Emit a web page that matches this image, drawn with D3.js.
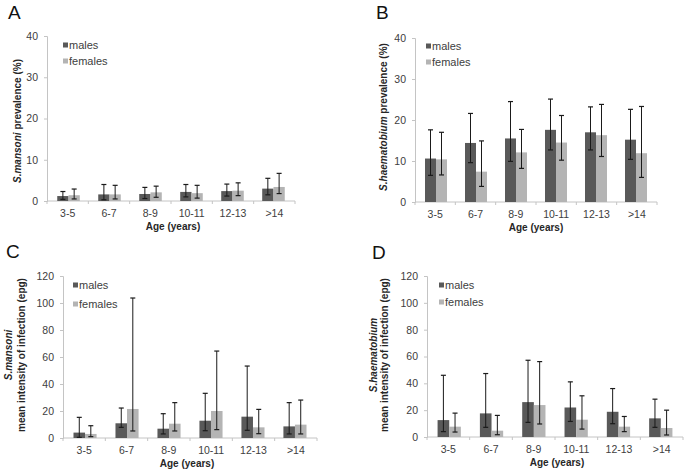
<!DOCTYPE html>
<html lang="en">
<head>
<meta charset="UTF-8">
<title>Schistosoma prevalence and intensity by age and sex</title>
<style>
    body { margin: 0; background: #fff; }
    svg { display: block; font-family: "Liberation Sans", Arial, sans-serif; }
    .tick text { fill: #404040; font-size: 10.5px; }
    .domain, .tick line { stroke: #c4c4c4; }
    .ttl { font-size: 10px; font-weight: bold; fill: #262626; }
    .leg { font-size: 11px; fill: #404040; }
    .letter { font-size: 19px; fill: #111; }
</style>
</head>
<body>
<svg id="chart" width="685" height="475"></svg>
<script src="https://d3js.org/d3.v7.min.js"></script>
<script>
// age groups (x categories)
var ageGroups = ["3-5", "6-7", "8-9", "10-11", "12-13", ">14"];
var seriesNames = ["males", "females"];
var prevTicks = [0, 10, 20, 30, 40];
var intensTicks = [0, 20, 40, 60, 80, 100, 120];

// A: S.mansoni prevalence (%), value and [low, high] error bar
var smPrevMales = [1.2, 1.6, 1.7, 2.2, 2.4, 3.0];
var smPrevMalesCI = [[0.4, 2.3], [0.3, 4.0], [0.6, 3.3], [1.0, 4.0], [1.2, 4.1], [1.5, 5.5]];
var smPrevFemales = [1.4, 1.6, 2.1, 1.9, 2.5, 3.4];
var smPrevFemalesCI = [[0.5, 2.9], [0.5, 3.8], [0.9, 3.6], [0.7, 3.8], [1.3, 4.4], [1.8, 6.7]];

// B: S.haematobium prevalence (%)
var shPrevMales = [10.6, 14.4, 15.5, 17.6, 17.0, 15.2];
var shPrevMalesCI = [[6.5, 17.6], [9.6, 21.6], [9.9, 24.5], [12.7, 25.1], [12.7, 23.2], [10.4, 22.6]];
var shPrevFemales = [10.4, 7.4, 12.1, 14.5, 16.3, 11.9];
var shPrevFemalesCI = [[6.6, 17.0], [3.8, 14.9], [8.2, 17.7], [10.2, 21.1], [11.1, 23.8], [6.0, 23.3]];

// C: S.mansoni mean intensity (epg)
var smIntMales = [4.0, 10.9, 6.9, 12.8, 15.8, 8.6];
var smIntMalesCI = [[0.5, 15.3], [7.9, 22.2], [3.0, 18.0], [5.4, 33.1], [5.7, 53.3], [3.0, 26.2]];
var smIntFemales = [3.0, 21.5, 10.6, 20.0, 7.9, 9.9];
var smIntFemalesCI = [[1.0, 9.1], [5.2, 103.7], [5.2, 26.2], [6.2, 64.4], [3.2, 21.2], [3.0, 28.1]];

// D: S.haematobium mean intensity (epg)
var shIntMales = [12.6, 17.6, 26.0, 22.0, 18.8, 13.9];
var shIntMalesCI = [[4.0, 46.0], [7.2, 47.3], [10.9, 57.2], [11.6, 41.1], [9.9, 36.1], [7.2, 28.2]];
var shIntFemales = [7.7, 4.7, 23.8, 12.9, 7.7, 6.7];
var shIntFemalesCI = [[3.7, 17.8], [1.7, 16.1], [9.7, 56.2], [5.9, 30.7], [4.0, 15.3], [1.5, 20.0]];

var colors = { males: "#595959", females: "#b4b4b4" };

var svg = d3.select("#chart");

function drawPanel(p) {
    var g = svg.append("g");
    var x0 = d3.scaleBand().domain(ageGroups).range([p.left, p.right])
        .paddingInner(0.45).paddingOuter(0.25);
    var x1 = d3.scaleBand().domain(seriesNames).range([0, x0.bandwidth()]);
    var y = d3.scaleLinear().domain([0, p.ticks[p.ticks.length - 1]]).range([p.bottom, p.top]);

    // y axis
    g.append("g")
        .attr("transform", "translate(" + p.left + ",0)")
        .call(d3.axisLeft(y).tickValues(p.ticks).tickSize(3).tickPadding(6));

    // x axis: ticks between categories
    var step = (p.right - p.left) / ageGroups.length;
    var xa = g.append("g").attr("transform", "translate(0," + p.bottom + ")");
    xa.append("line").attr("class", "domain")
        .attr("x1", p.left).attr("x2", p.right);
    xa.selectAll(".sep").data(d3.range(ageGroups.length + 1)).enter().append("line")
        .attr("class", "sep")
        .attr("stroke", "#c4c4c4")
        .attr("x1", function(i) { return p.left + i * step; })
        .attr("x2", function(i) { return p.left + i * step; })
        .attr("y1", 0).attr("y2", 3);
    xa.selectAll(".lab").data(ageGroups).enter().append("text")
        .attr("class", "lab")
        .attr("x", function(d, i) { return p.left + (i + 0.5) * step; })
        .attr("y", 16)
        .attr("text-anchor", "middle")
        .attr("fill", "#404040")
        .style("font-size", "10.5px")
        .text(function(d) { return d; });

    // bars
    var rows = [];
    ageGroups.forEach(function(a, i) {
        rows.push({ age: a, s: "males", v: p.males[i], ci: p.malesCI[i] });
        rows.push({ age: a, s: "females", v: p.females[i], ci: p.femalesCI[i] });
    });
    g.selectAll(".bar").data(rows).enter().append("rect")
        .attr("x", function(d) { return x0(d.age) + x1(d.s); })
        .attr("y", function(d) { return y(d.v); })
        .attr("width", x1.bandwidth())
        .attr("height", function(d) { return p.bottom - y(d.v); })
        .attr("fill", function(d) { return colors[d.s]; });

    // error bars
    var eb = g.selectAll(".err").data(rows).enter().append("g")
        .attr("transform", function(d) {
            return "translate(" + (x0(d.age) + x1(d.s) + x1.bandwidth() / 2) + ",0)";
        });
    eb.append("line")
        .attr("y1", function(d) { return y(d.ci[0]); })
        .attr("y2", function(d) { return y(d.ci[1]); })
        .attr("stroke", "#1a1a1a").attr("stroke-width", 1);
    eb.append("line")
        .attr("x1", -2.5).attr("x2", 2.5)
        .attr("y1", function(d) { return y(d.ci[1]); })
        .attr("y2", function(d) { return y(d.ci[1]); })
        .attr("stroke", "#1a1a1a").attr("stroke-width", 1.2);
    eb.append("line")
        .attr("x1", -2.5).attr("x2", 2.5)
        .attr("y1", function(d) { return y(d.ci[0]); })
        .attr("y2", function(d) { return y(d.ci[0]); })
        .attr("stroke", "#1a1a1a").attr("stroke-width", 1.2);

    // x axis title
    g.append("text").attr("class", "ttl")
        .attr("x", (p.left + p.right) / 2 + p.xTitleShift)
        .attr("y", p.bottom + 29)
        .attr("text-anchor", "middle")
        .text("Age (years)");

    // y axis title (one or two lines, species name in italics)
    p.yTitle.forEach(function(line, i) {
        var t = g.append("text").attr("class", "ttl")
            .attr("text-anchor", "middle")
            .attr("transform", "translate(" + p.yTitleX[i] + "," + p.yTitleY + ") rotate(-90)");
        line.forEach(function(part) {
            t.append("tspan").style("font-style", part[1] ? "italic" : "normal").text(part[0]);
        });
    });

    // legend
    seriesNames.forEach(function(s, i) {
        var ly = p.legY + i * p.legGap;
        g.append("rect")
            .attr("x", p.legX).attr("y", ly - 6.5)
            .attr("width", 5).attr("height", 5)
            .attr("fill", colors[s]);
        g.append("text").attr("class", "leg")
            .attr("x", p.legX + 6).attr("y", ly)
            .text(s);
    });

    // panel letter
    g.append("text").attr("class", "letter")
        .attr("x", p.letterX).attr("y", p.letterY)
        .text(p.letter);
}

drawPanel({
    letter: "A", letterX: 8, letterY: 19,
    left: 47, right: 295, top: 36, bottom: 201, ticks: prevTicks,
    males: smPrevMales, malesCI: smPrevMalesCI, females: smPrevFemales, femalesCI: smPrevFemalesCI,
    yTitle: [[["S.mansoni", true], [" prevalence (%)", false]]],
    yTitleX: [21], yTitleY: 121, xTitleShift: 2,
    legX: 63, legY: 49, legGap: 16
});

drawPanel({
    letter: "B", letterX: 376, letterY: 19,
    left: 415, right: 657, top: 38, bottom: 202, ticks: prevTicks,
    males: shPrevMales, malesCI: shPrevMalesCI, females: shPrevFemales, femalesCI: shPrevFemalesCI,
    yTitle: [[["S.haematobium", true], [" prevalence (%)", false]]],
    yTitleX: [387], yTitleY: 117, xTitleShift: 0,
    legX: 426, legY: 50, legGap: 16
});

drawPanel({
    letter: "C", letterX: 6, letterY: 258,
    left: 63, right: 317, top: 276, bottom: 438, ticks: intensTicks,
    males: smIntMales, malesCI: smIntMalesCI, females: smIntFemales, femalesCI: smIntFemalesCI,
    yTitle: [[["S.mansoni", true]], [["mean intensity of infection (epg)", false]]],
    yTitleX: [12, 25], yTitleY: 355, xTitleShift: -3,
    legX: 73, legY: 289, legGap: 19
});

drawPanel({
    letter: "D", letterX: 372, letterY: 259,
    left: 427, right: 683, top: 276, bottom: 437, ticks: intensTicks,
    males: shIntMales, malesCI: shIntMalesCI, females: shIntFemales, femalesCI: shIntFemalesCI,
    yTitle: [[["S.haematobium", true]], [["mean intensity of infection (epg)", false]]],
    yTitleX: [377, 388], yTitleY: 355, xTitleShift: 2,
    legX: 439, legY: 289, legGap: 17
});
</script>
</body>
</html>
